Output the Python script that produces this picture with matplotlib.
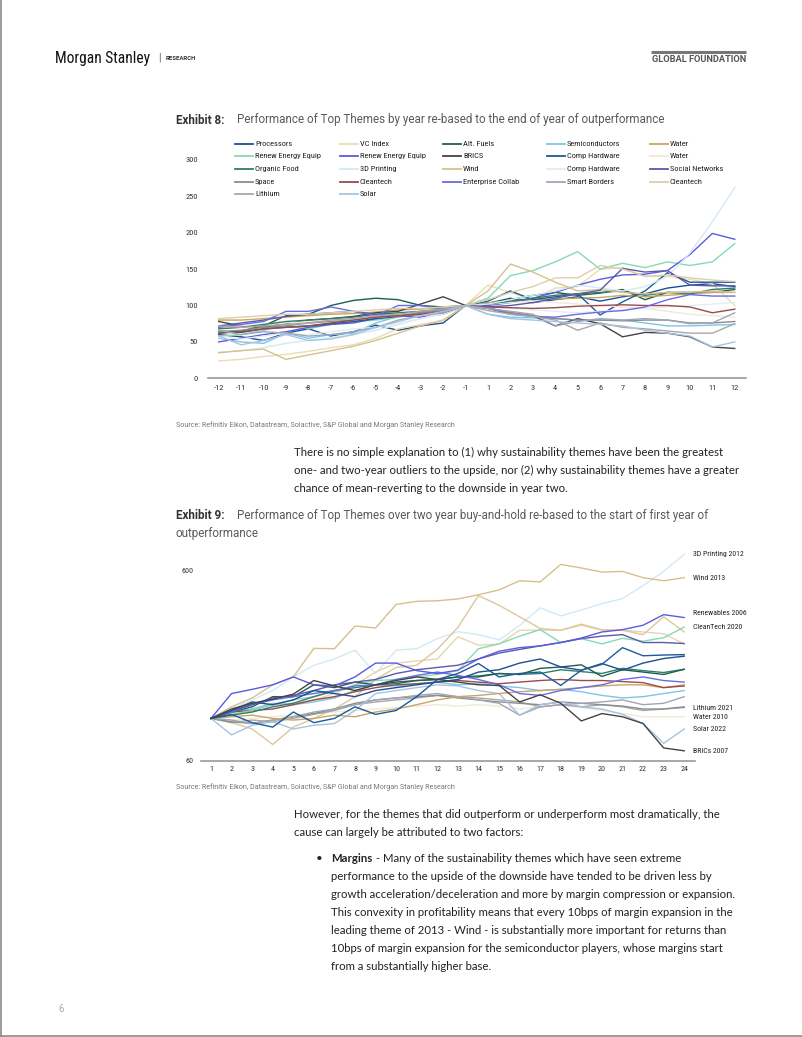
import matplotlib
matplotlib.use("Agg")
import matplotlib.pyplot as plt
from matplotlib.lines import Line2D
from matplotlib.ticker import NullLocator
from matplotlib import font_manager
import numpy as np

# ---------------- Exhibit 8 data (re-based to 100 at year -1) ----------------
years8 = ['-12', '-11', '-10', '-9', '-8', '-7', '-6', '-5', '-4', '-3', '-2', '-1',
          '1', '2', '3', '4', '5', '6', '7', '8', '9', '10', '11', '12']

processors = [60, 57, 52, 62, 68, 58, 64, 73, 66, 72, 76, 100, 103, 110, 104, 108, 112, 106, 112, 116, 124, 128, 130, 126]
vc_index = [24, 26, 30, 33, 37, 42, 46, 55, 68, 74, 79, 100, 128, 118, 108, 124, 126, 150, 152, 140, 140, 136, 130, 100]
alt_fuels = [62, 65, 72, 86, 88, 100, 107, 110, 108, 100, 98, 100, 103, 108, 114, 118, 114, 117, 122, 108, 118, 118, 118, 122]
semis = [55, 50, 48, 62, 55, 60, 62, 76, 85, 90, 94, 100, 88, 84, 83, 82, 80, 80, 80, 76, 72, 72, 73, 74]
water_a = [80, 80, 82, 84, 86, 88, 89, 91, 94, 95, 97, 100, 104, 106, 108, 109, 110, 111, 114, 112, 114, 116, 118, 118]
renew_a = [58, 60, 66, 72, 68, 74, 78, 80, 84, 88, 92, 100, 110, 141, 148, 160, 174, 150, 158, 152, 160, 155, 160, 185]
renew_b = [50, 55, 60, 64, 70, 74, 76, 82, 86, 84, 88, 100, 100, 104, 110, 118, 128, 136, 142, 143, 148, 170, 199, 191]
brics = [78, 72, 70, 75, 80, 82, 85, 90, 92, 102, 112, 100, 97, 90, 86, 72, 82, 75, 57, 63, 62, 57, 43, 41]
comp_hw_a = [65, 63, 68, 70, 72, 75, 78, 82, 85, 90, 92, 100, 106, 120, 108, 112, 116, 87, 105, 120, 145, 132, 132, 132]
water_b = [70, 72, 74, 76, 78, 80, 82, 84, 86, 88, 92, 100, 102, 104, 106, 104, 102, 100, 98, 96, 92, 88, 86, 84]
organic = [68, 70, 74, 78, 80, 82, 84, 88, 90, 92, 95, 100, 102, 106, 110, 114, 116, 118, 120, 114, 118, 116, 122, 124]
printing = [36, 38, 42, 48, 52, 56, 60, 66, 74, 82, 90, 100, 102, 108, 114, 120, 128, 124, 120, 126, 140, 172, 215, 262]
wind = [35, 38, 40, 26, 32, 38, 44, 52, 62, 72, 80, 100, 120, 157, 146, 132, 120, 122, 118, 116, 118, 118, 120, 118]
comp_hw_b = [56, 54, 58, 62, 60, 64, 68, 70, 76, 82, 88, 100, 98, 96, 94, 92, 90, 92, 94, 96, 98, 100, 102, 104]
social = [72, 76, 80, 85, 88, 90, 92, 88, 86, 88, 90, 100, 98, 100, 104, 110, 116, 121, 151, 146, 148, 128, 127, 127]
space = [64, 66, 70, 72, 76, 78, 80, 84, 86, 90, 94, 100, 96, 90, 86, 82, 80, 80, 79, 80, 80, 76, 76, 78]
cleantech_a = [62, 64, 68, 70, 72, 76, 80, 84, 86, 88, 92, 100, 98, 97, 96, 97, 99, 100, 101, 100, 100, 98, 90, 95]
enterprise = [70, 74, 78, 92, 92, 98, 92, 86, 100, 100, 95, 100, 96, 88, 85, 84, 88, 91, 93, 98, 108, 115, 113, 113]
smart_borders = [66, 60, 64, 62, 58, 60, 64, 70, 80, 86, 90, 100, 96, 92, 88, 72, 78, 82, 80, 82, 80, 75, 76, 90]
cleantech_b = [82, 84, 86, 88, 88, 90, 92, 94, 96, 96, 98, 100, 108, 118, 126, 138, 138, 155, 150, 140, 142, 138, 135, 133]
lithium = [72, 70, 72, 74, 76, 80, 82, 86, 88, 92, 95, 100, 93, 88, 85, 80, 66, 76, 70, 68, 65, 62, 62, 75]
solar = [58, 46, 52, 60, 52, 54, 60, 70, 78, 86, 92, 100, 88, 82, 80, 78, 76, 74, 72, 66, 62, 58, 43, 50]

# ---------------- Exhibit 9 data (two-year buy-and-hold, log scale) ----------------
months9 = list(range(1, 25))

printing_2012 = [100, 112, 125, 140, 165, 190, 205, 228, 172, 228, 232, 262, 285, 275, 258, 307, 380, 345, 370, 400, 425, 497, 590, 725]
wind_2013 = [100, 115, 128, 150, 165, 233, 232, 305, 298, 396, 411, 414, 423, 445, 472, 527, 520, 642, 615, 585, 590, 547, 527, 547]
vc_2 = [100, 95, 88, 73, 90, 100, 112, 130, 160, 185, 190, 230, 300, 441, 392, 341, 296, 290, 312, 292, 290, 275, 341, 284]
tan_3 = [100, 108, 112, 118, 120, 125, 135, 150, 175, 195, 200, 205, 268, 242, 245, 290, 290, 290, 308, 290, 290, 284, 278, 246]
renew_2006 = [100, 135, 142, 150, 165, 150, 148, 165, 195, 195, 178, 172, 179, 205, 225, 235, 240, 250, 264, 284, 292, 308, 350, 338]
social_9 = [100, 110, 118, 128, 132, 140, 150, 155, 160, 172, 180, 185, 190, 205, 220, 230, 240, 250, 262, 270, 275, 250, 250, 247]
cleantech_2020 = [100, 105, 110, 118, 125, 130, 138, 150, 158, 160, 165, 170, 178, 232, 246, 270, 292, 250, 262, 246, 263, 254, 265, 301]
comp_hw_9 = [100, 105, 95, 90, 108, 95, 100, 115, 105, 110, 130, 160, 172, 194, 165, 172, 175, 149, 179, 192, 235, 213, 215, 216]
processors_9 = [100, 110, 122, 118, 125, 140, 135, 130, 140, 145, 150, 155, 160, 175, 180, 195, 205, 186, 179, 194, 179, 195, 206, 212]
alt_fuels_9 = [100, 108, 115, 130, 130, 150, 145, 155, 150, 155, 158, 160, 165, 165, 172, 170, 183, 186, 191, 166, 180, 175, 170, 181]
organic_9 = [100, 104, 108, 115, 120, 130, 140, 145, 150, 152, 158, 160, 165, 167, 172, 170, 172, 180, 176, 172, 183, 178, 174, 181]
brics_2007 = [100, 112, 120, 126, 134, 158, 148, 140, 150, 158, 165, 160, 155, 150, 149, 122, 133, 120, 97, 106, 102, 94, 70, 67.6]
solar_2022 = [100, 82, 92, 96, 88, 92, 94, 110, 135, 140, 145, 150, 148, 140, 135, 104, 118, 122, 115, 112, 105, 94, 74, 88]
lithium_2021 = [100, 95, 98, 96, 100, 105, 110, 118, 122, 125, 128, 132, 130, 128, 125, 122, 115, 118, 115, 118, 115, 110, 112, 114]
water_2010 = [100, 98, 100, 102, 104, 106, 108, 110, 112, 114, 116, 118, 116, 118, 116, 112, 115, 118, 114, 110, 106, 102, 102, 102]
semis_9 = [100, 108, 112, 120, 118, 122, 128, 140, 150, 148, 152, 155, 150, 152, 148, 145, 140, 142, 138, 132, 128, 130, 135, 140]
cleantech_9 = [100, 108, 110, 112, 118, 125, 130, 138, 145, 150, 152, 155, 158, 155, 152, 155, 158, 160, 158, 158, 156, 154, 145, 148]
water_9 = [100, 102, 104, 100, 98, 100, 104, 102, 108, 112, 118, 125, 130, 132, 135, 138, 140, 142, 145, 148, 150, 150, 145, 150]
borders_9 = [100, 98, 94, 98, 102, 108, 112, 118, 125, 128, 132, 135, 130, 125, 120, 104, 115, 118, 120, 122, 125, 118, 120, 130]
space_9 = [100, 96, 94, 98, 102, 106, 112, 120, 125, 128, 130, 132, 128, 125, 122, 120, 118, 122, 120, 118, 116, 112, 112, 115]
enterprise_9 = [100, 108, 118, 125, 130, 135, 140, 148, 150, 160, 168, 175, 168, 160, 150, 135, 132, 140, 145, 150, 160, 165, 158, 155]

# ---------------- page text ----------------
para1 = ["There is no simple explanation to (1) why sustainability themes have been the greatest",
         "one- and two-year outliers to the upside, nor (2) why sustainability themes have a greater",
         "chance of mean-reverting to the downside in year two."]
para2 = ["However, for the themes that did outperform or underperform most dramatically, the",
         "cause can largely be attributed to two factors:"]
bullet_rest = ["performance to the upside of the downside have tended to be driven less by",
               "growth acceleration/deceleration and more by margin compression or expansion.",
               "This convexity in profitability means that every 10bps of margin expansion in the",
               "leading theme of 2013 - Wind - is substantially more important for returns than",
               "10bps of margin expansion for the semiconductor players, whose margins start",
               "from a substantially higher base."]
source = "Source: Refinitiv Eikon, Datastream, Solactive, S&P Global and Morgan Stanley Research"

# series tables (legend order, row by row)
series8 = [
    ('Processors', processors, '#1d4f91'),
    ('VC Index', vc_index, '#ecdcb4'),
    ('Alt. Fuels', alt_fuels, '#1f5f4f'),
    ('Semiconductors', semis, '#7cc6e8'),
    ('Water', water_a, '#c9a566'),
    ('Renew Energy Equip', renew_a, '#86d9b5'),
    ('Renew Energy Equip', renew_b, '#5b5be0'),
    ('BRICS', brics, '#444444'),
    ('Comp Hardware', comp_hw_a, '#1b5c99'),
    ('Water', water_b, '#f1e9d9'),
    ('Organic Food', organic, '#2f7d68'),
    ('3D Printing', printing, '#d4e9f4'),
    ('Wind', wind, '#d6c08f'),
    ('Comp Hardware', comp_hw_b, '#e4edf2'),
    ('Social Networks', social, '#5c5aa8'),
    ('Space', space, '#8c8c8c'),
    ('Cleantech', cleantech_a, '#9b4a4f'),
    ('Enterprise Collab', enterprise, '#6b6be3'),
    ('Smart Borders', smart_borders, '#9fa6b6'),
    ('Cleantech', cleantech_b, '#dccfae'),
    ('Lithium', lithium, '#a8a8a8'),
    ('Solar', solar, '#a7c3e2'),
]

series9 = [
    (water_2010, '#f1e9d9', 'Water 2010'),
    (printing_2012, '#d4e9f4', '3D Printing 2012'),
    (tan_3, '#e6d6b0', None),
    (vc_2, '#dcc89c', None),
    (wind_2013, '#d6c08f', 'Wind 2013'),
    (lithium_2021, '#a8a8a8', 'Lithium 2021'),
    (space_9, '#8c8c8c', None),
    (borders_9, '#9fa6b6', None),
    (solar_2022, '#a7c3e2', 'Solar 2022'),
    (semis_9, '#7cc6e8', None),
    (water_9, '#c9a566', None),
    (cleantech_9, '#9b4a4f', None),
    (cleantech_2020, '#86d9b5', 'CleanTech 2020'),
    (organic_9, '#2f7d68', None),
    (alt_fuels_9, '#1f5f4f', None),
    (enterprise_9, '#6b6be3', None),
    (social_9, '#5c5aa8', None),
    (renew_2006, '#5b5be0', 'Renewables 2006'),
    (processors_9, '#1d4f91', None),
    (comp_hw_9, '#1b5c99', None),
    (brics_2007, '#444444', 'BRICs 2007'),
]

W, H = 802, 1037
fig = plt.figure(figsize=(W / 100, H / 100), dpi=100)


def fx(x):
    return x / W


def fy(y):
    return 1 - y / H


def put(x, y, s, **kw):
    kw.setdefault('va', 'center')
    kw.setdefault('ha', 'left')
    return fig.text(fx(x), fy(y), s, **kw)


def hline(x0, x1, y, **kw):
    fig.add_artist(Line2D([fx(x0), fx(x1)], [fy(y), fy(y)], transform=fig.transFigure, **kw))


names = {f.name for f in font_manager.fontManager.ttflist}
cond = next((n for n in ['Roboto Condensed', 'Liberation Sans Narrow'] if n in names), 'Roboto')
body = 'Lato'
plt.rcParams['font.family'] = ['Roboto', 'DejaVu Sans']

BODY_FS = 8.2
TITLE_FS = 8.4

# page frame (left and bottom edges)
fig.add_artist(Line2D([fx(0.8), fx(0.8)], [0, 1], transform=fig.transFigure, color='#8a8a8a', lw=1.2))
hline(0, W, 1036.2, color='#8a8a8a', lw=1.2)

# header
put(55, 58, 'Morgan Stanley', fontsize=11.2, family=cond, color='#111111')
put(158, 58, '|', fontsize=7, color='#555555')
put(166, 58.5, 'RESEARCH', fontsize=4.3, weight='bold', color='#333333')
hline(651, 746, 51.5, color='#777777', lw=2.2, solid_capstyle='butt')
put(746, 59, 'GLOBAL FOUNDATION', fontsize=6.7, weight='bold', color='#555555', ha='right')

# ---------------- Exhibit 8 ----------------
put(176, 120, 'Exhibit 8:', fontsize=TITLE_FS, weight='bold', color='#333333')
put(237, 120, 'Performance of Top Themes by year re-based to the end of year of outperformance',
    fontsize=TITLE_FS, color='#5a5a5a')

ax1 = fig.add_axes([fx(207.5), fy(378.3), (746 - 207.5) / W, (378.3 - 138.1) / H])
x8 = np.arange(len(years8))
for label, vals, col in series8:
    ax1.plot(x8, vals, color=col, lw=1.0, solid_joinstyle='miter')
ax1.set_xlim(-0.5, len(years8) - 0.5)
ax1.set_ylim(0, 330)
ax1.set_xticks(x8)
ax1.set_xticklabels(years8)
ax1.set_yticks([0, 50, 100, 150, 200, 250, 300])
for s in ['left', 'top', 'right']:
    ax1.spines[s].set_visible(False)
ax1.spines['bottom'].set_color('#9a9a9a')
ax1.spines['bottom'].set_linewidth(1.2)
ax1.tick_params(length=0, labelsize=6, labelcolor='#333333')
ax1.tick_params(axis='y', pad=7)
ax1.tick_params(axis='x', pad=5)
for t in ax1.get_xticklabels() + ax1.get_yticklabels():
    t.set_family(cond)
ax1.patch.set_alpha(0)

# legend grid drawn by hand (fixed column pitch like the original)
col_x = [235, 340, 443, 547, 650]
row_y = [143.5, 156.3, 169.0, 181.6, 194.2]
for i, (label, vals, col) in enumerate(series8):
    r, c = divmod(i, 5)
    hline(col_x[c], col_x[c] + 18, row_y[r], color=col, lw=1.3)
    put(col_x[c] + 20, row_y[r], label, fontsize=6.0, family=cond, color='#222222')

put(176, 425, source, fontsize=5.1, color='#777777')

for i, line in enumerate(para1):
    put(294, 452 + 18 * i, line, fontsize=BODY_FS, family=body, color='#222222')

# ---------------- Exhibit 9 ----------------
put(176, 515, 'Exhibit 9:', fontsize=TITLE_FS, weight='bold', color='#333333')
put(237, 515, 'Performance of Top Themes over two year buy-and-hold re-based to the start of first year of',
    fontsize=TITLE_FS, color='#5a5a5a')
put(176, 533, 'outperformance', fontsize=TITLE_FS, color='#5a5a5a')

ax2 = fig.add_axes([fx(200.7), fy(760.7), (694.5 - 200.7) / W, (760.7 - 546.2) / H])
for vals, col, label in series9:
    ax2.plot(months9, vals, color=col, lw=1.0, solid_joinstyle='miter')
    if label:
        dy = 3.5 if label.startswith('Renewables') else 0
        ax2.annotate(label, xy=(months9[-1], vals[-1]), xytext=(6, dy), textcoords='offset points',
                     fontsize=5.6, family=cond, color='#222222', va='center', annotation_clip=False)
ax2.set_yscale('log')
ax2.set_xlim(0.5, 24.5)
ax2.set_ylim(60, 800)
ax2.set_xticks(months9)
ax2.set_yticks([60, 600])
ax2.set_yticklabels(['60', '600'])
ax2.yaxis.set_minor_locator(NullLocator())
for s in ['left', 'top', 'right']:
    ax2.spines[s].set_visible(False)
ax2.spines['bottom'].set_color('#9a9a9a')
ax2.spines['bottom'].set_linewidth(1.2)
ax2.tick_params(length=0, labelsize=5.8, labelcolor='#333333')
ax2.tick_params(axis='y', pad=5)
ax2.tick_params(axis='x', pad=4)
for t in ax2.get_xticklabels() + ax2.get_yticklabels():
    t.set_family(cond)
ax2.patch.set_alpha(0)

put(176, 787, source, fontsize=5.1, color='#777777')

for i, line in enumerate(para2):
    put(294, 814 + 18 * i, line, fontsize=BODY_FS, family=body, color='#222222')

put(316, 859, '\u2022', fontsize=BODY_FS, family=body, color='#222222')
bold = put(331, 859, 'Margins', fontsize=BODY_FS, family=body, weight='bold', color='#222222')
fig.canvas.draw()
bb = bold.get_window_extent()
put(bb.x1 + 1, 859, ' - Many of the sustainability themes which have seen extreme',
    fontsize=BODY_FS, family=body, color='#222222')
for i, line in enumerate(bullet_rest):
    put(331, 877 + 18 * i, line, fontsize=BODY_FS, family=body, color='#222222')

put(58, 1009, '6', fontsize=7, color='#aaaaaa')

fig.savefig('out.png', dpi=100)
